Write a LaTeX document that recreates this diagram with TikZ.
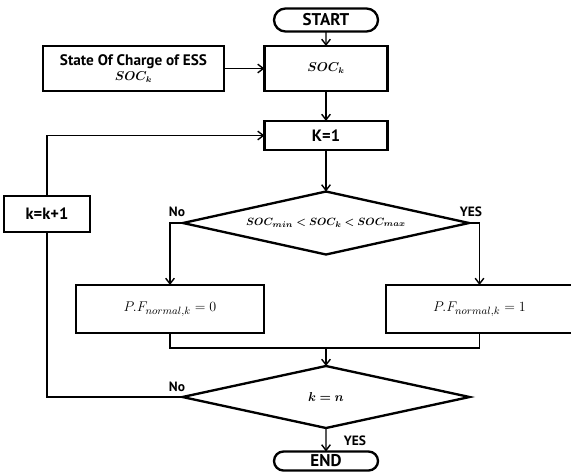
\documentclass[tikz,border=0pt]{standalone}
\usepackage{amsmath}
\usepackage{bm}
\usepackage[no-math]{fontspec}
\setmainfont{PT Sans}
\usetikzlibrary{shapes.geometric,shapes.misc,arrows.meta}
\newcommand{\drawthin}{\draw[line width=0.9pt]}
\newcommand{\drawarrow}{\draw[line width=1.2pt,-{Straight Barb[length=1.7mm,width=2.6mm]}]}
\tikzset{
  flowbox/.style={draw,line width=2pt,rectangle,inner sep=0pt,outer sep=0pt,font=\fontsize{14}{16}\selectfont\bfseries},
  terminal/.style={draw,line width=2pt,rounded rectangle,inner sep=0pt,outer sep=0pt,minimum width=3.12cm,font=\fontsize{14.5}{16}\selectfont\bfseries},
  decision/.style={draw,line width=2pt,diamond,aspect=4.5,inner sep=0pt,outer sep=0pt,font=\fontsize{9.5}{12}\selectfont},
  branchlabel/.style={inner sep=0pt,font=\fontsize{11.5}{13}\selectfont\bfseries}
}

\begin{document}
\begin{tikzpicture}[x=0.03cm,y=-0.03cm]
\useasboundingbox (0,0) rectangle (571,471);
\node[terminal,minimum height=0.69cm] (start) at (326,20) {START};
\node[flowbox,minimum width=5.43cm,minimum height=1.35cm,align=center,font=\fontsize{13}{15}\selectfont\bfseries] (ess) at (133.5,68.5) {State Of Charge of ESS\\[-2pt]{\fontsize{10.5}{12}\selectfont$\bm{SOC_k}$}};
\node[flowbox,minimum width=3.69cm,minimum height=1.35cm,font=\fontsize{10.5}{12}\selectfont] (soc) at (326,68.5) {$\bm{SOC_k}$};
\node[flowbox,minimum width=3.69cm,minimum height=0.87cm] (kone) at (326,135.5) {K=1};
\node[flowbox,minimum width=2.58cm,minimum height=1.08cm] (kinc) at (47,214) {k=k+1};
\node[decision,minimum width=8.58cm,minimum height=1.89cm] (range) at (326,223) {$\bm{SOC_{min}<SOC_k<SOC_{max}}$};
\node[flowbox,minimum width=5.64cm,minimum height=1.44cm,font=\fontsize{12.5}{14}\selectfont] (pfzero) at (170,309) {$P.F_{normal,k}=0$};
\node[flowbox,minimum width=5.61cm,minimum height=1.44cm,font=\fontsize{12.5}{14}\selectfont] (pfone) at (479.5,309) {$P.F_{normal,k}=1$};
\coordinate (merge) at (326,348);
\node[decision,minimum width=8.61cm,minimum height=1.86cm,font=\fontsize{10.5}{12}\selectfont] (last) at (326,397) {$\bm{k=n}$};
\node[terminal,minimum height=0.57cm] (end) at (326,461) {END};
\node[branchlabel] (nofirst) at (177,212) {No};
\node[branchlabel] (yesfirst) at (471,212) {YES};
\node[branchlabel] (nolast) at (177,387) {No};
\node[branchlabel] (yeslast) at (355,441) {YES};
\drawarrow (start) -- (soc);
\drawarrow (ess) -- (soc);
\drawarrow (soc) -- (kone);
\drawarrow (kone) -- (range);
\drawarrow (range.west) -| (pfzero.north);
\drawarrow (range.east) -| (pfone.north);
\drawthin (pfzero.south) |- (merge) -| (pfone.south);
\drawarrow (merge) -- (last.north);
\drawarrow (last) -- (end);
\drawthin (last.west) -| (kinc.south);
\drawarrow (kinc.north) |- (kone.west);
\end{tikzpicture}
\end{document}
